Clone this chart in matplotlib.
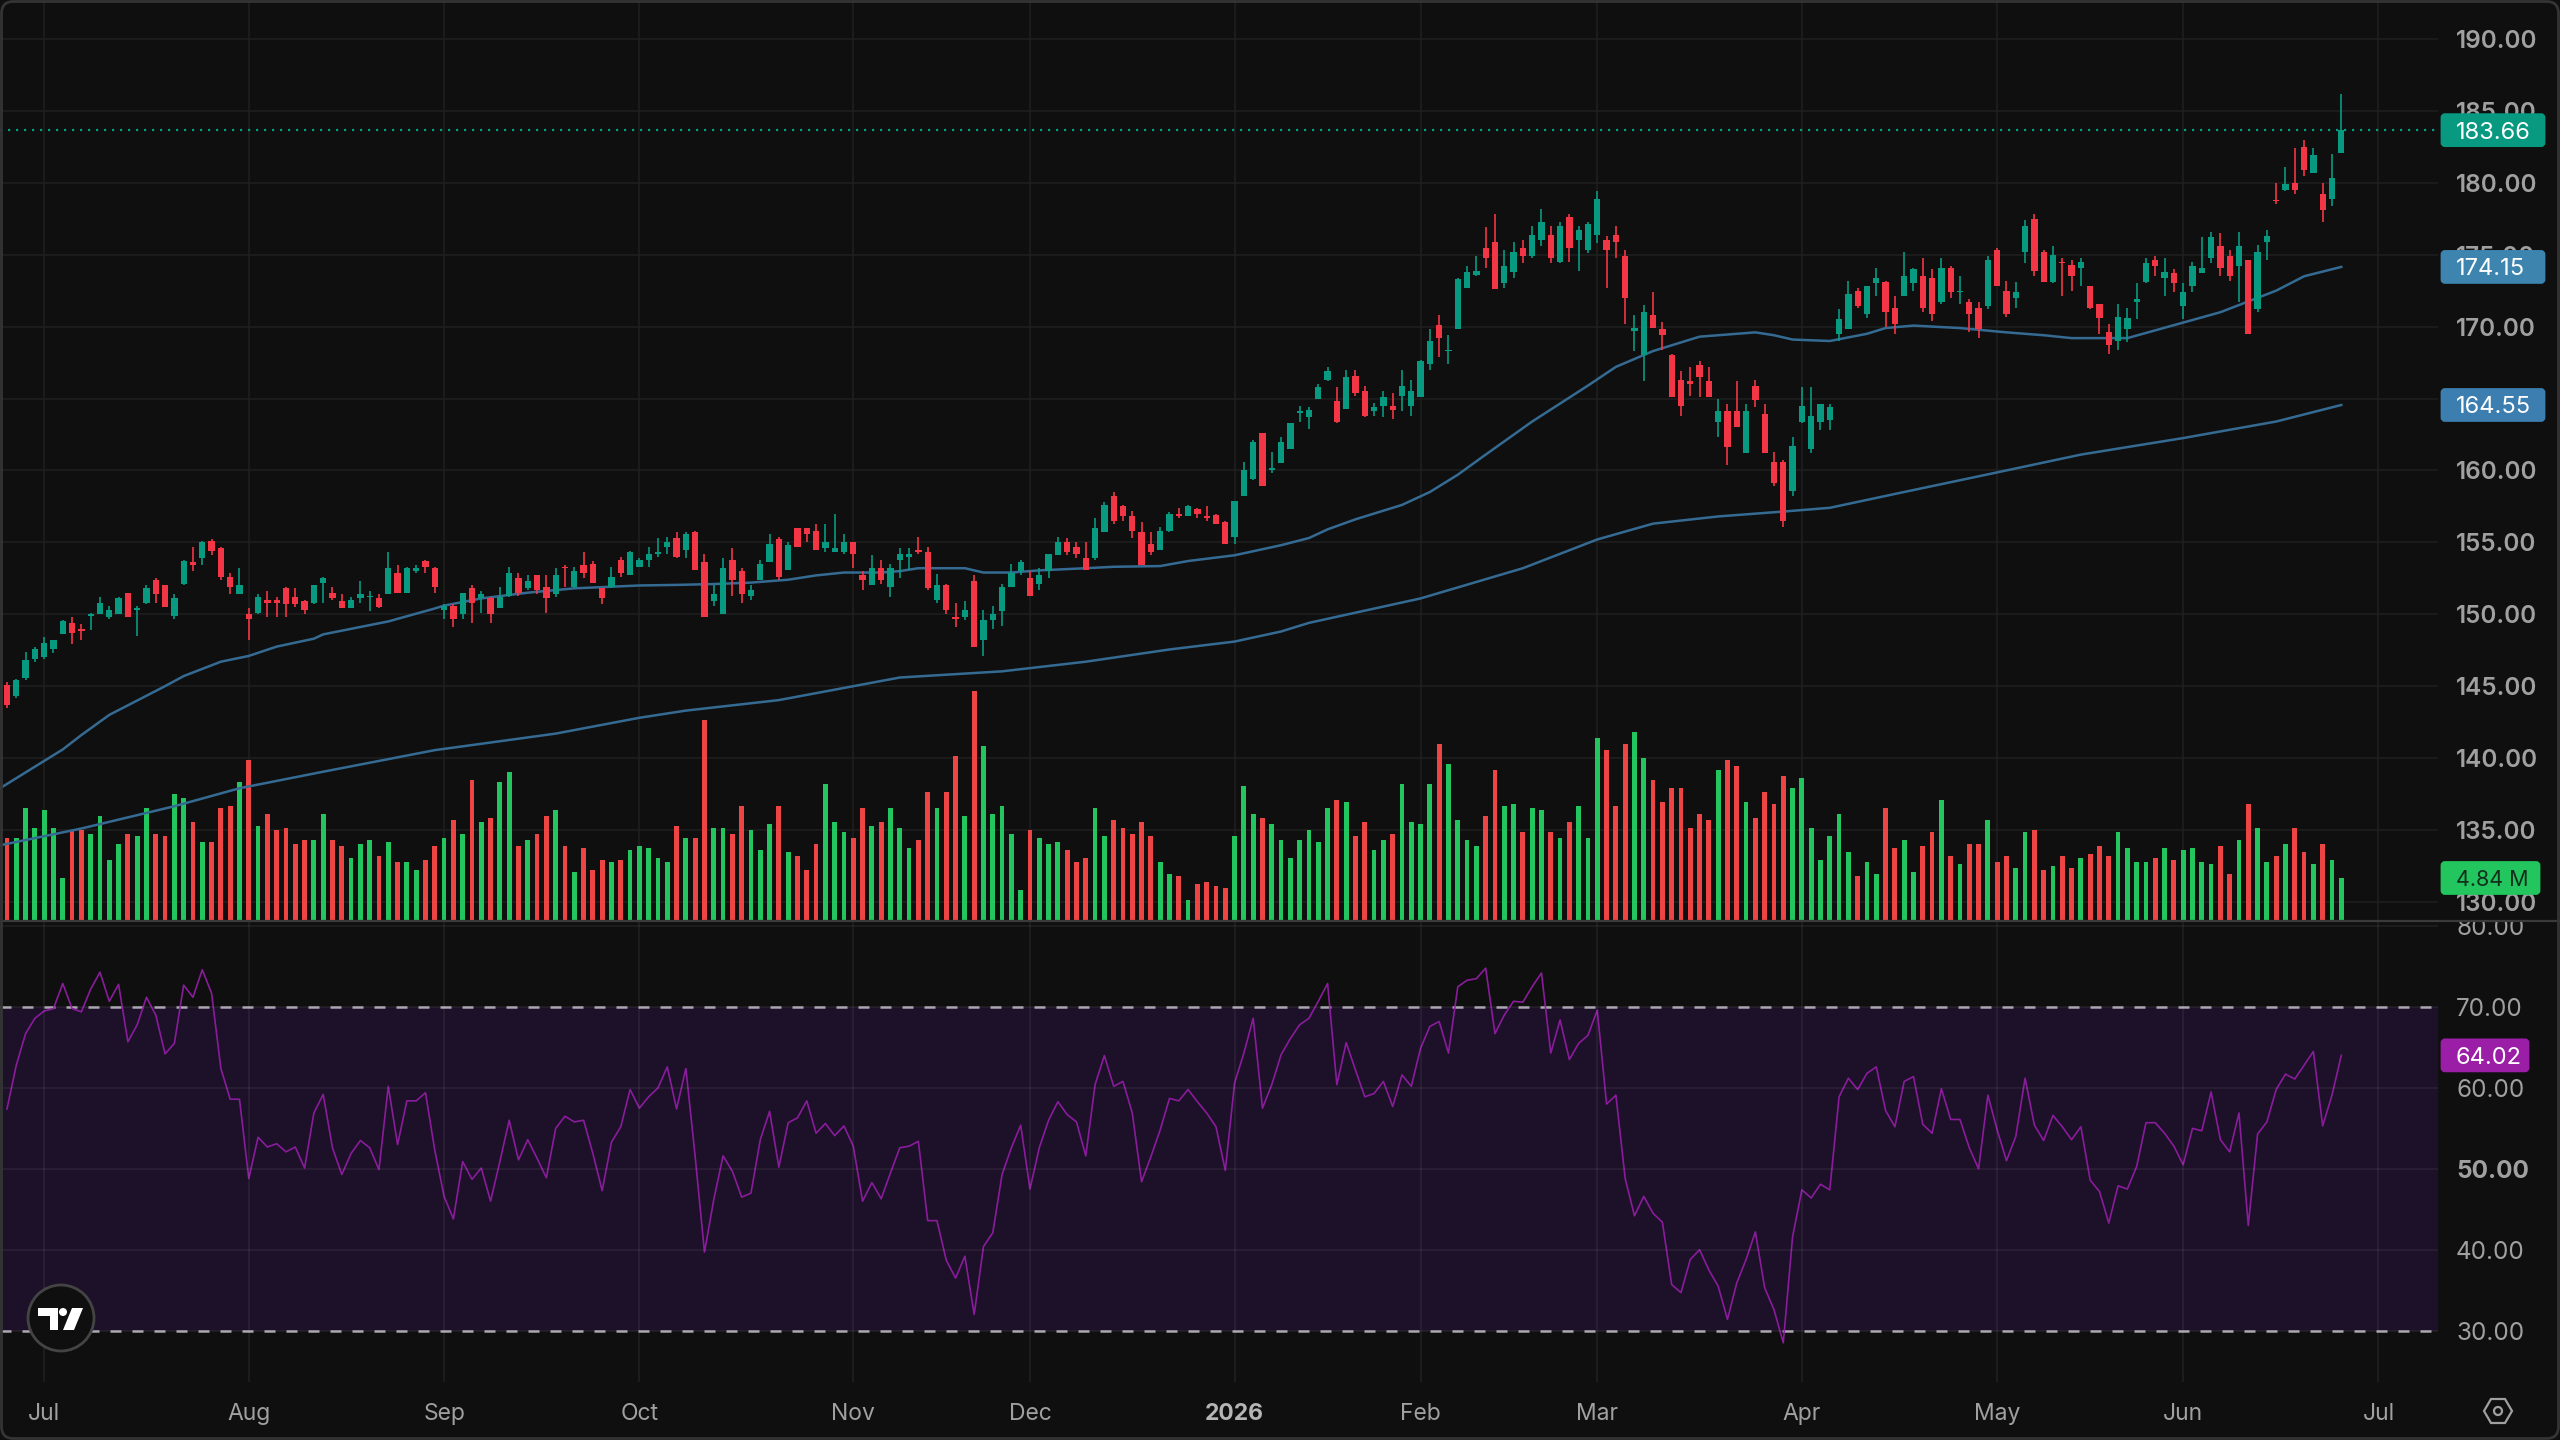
import matplotlib
matplotlib.use("Agg")
import matplotlib.pyplot as plt
import numpy as np
from matplotlib.patches import Circle, FancyBboxPatch, Polygon, Rectangle

plt.rcParams['font.family'] = ['Inter', 'DejaVu Sans']

# Daily OHLC in USD, one value per session
opens = [
    145.1,144.3,145.6,146.9,147.0,147.6,148.6,149.4,149.0,149.9,
    150.0,149.8,150.0,151.5,150.3,150.8,152.4,152.0,149.9,152.1,
    153.6,153.9,155.1,154.6,152.6,151.4,150.0,150.1,151.0,151.0,
    151.8,151.2,150.9,150.8,152.2,151.5,150.9,150.4,151.1,151.2,
    151.1,151.4,152.9,151.5,153.0,153.7,153.2,150.3,150.6,150.0,
    151.8,151.1,151.1,150.4,151.3,152.5,151.8,152.7,151.9,151.4,
    153.3,151.9,153.4,153.5,151.8,151.9,153.8,152.7,153.3,153.8,
    154.2,154.7,155.3,154.5,155.7,153.6,150.9,150.0,153.8,153.0,
    151.3,152.4,153.6,155.2,153.1,156.0,156.0,155.8,154.6,154.3,
    154.3,155.0,152.7,152.0,153.2,151.9,153.8,154.0,154.5,154.3,
    151.0,152.0,149.8,149.8,152.3,148.2,149.6,150.2,151.9,153.0,
    152.5,152.1,153.0,154.1,155.0,154.7,153.9,153.9,155.7,158.2,
    157.5,156.8,155.7,154.9,154.5,155.8,157.0,156.8,157.3,156.8,
    156.9,156.4,155.4,158.2,159.4,162.6,160.0,160.5,161.5,164.0,
    163.7,165.0,166.3,164.8,164.3,166.6,165.5,164.1,164.5,164.5,
    165.2,164.5,165.1,167.4,170.1,168.3,169.8,172.7,173.6,175.5,
    175.9,173.0,173.8,175.5,174.9,176.0,176.4,174.5,177.6,176.0,
    175.3,176.4,176.0,176.4,174.9,169.7,168.0,170.8,169.8,168.0,
    166.3,166.2,167.3,166.2,163.4,164.1,164.1,161.2,165.9,163.9,
    160.6,160.6,158.6,163.4,161.5,163.4,163.5,169.5,169.8,172.5,
    170.9,173.0,173.1,171.3,172.1,173.0,173.5,173.4,171.7,174.1,
    172.4,171.7,171.3,171.4,175.3,172.5,172.0,175.2,177.5,175.2,
    173.1,174.5,174.3,174.1,172.8,171.6,169.6,169.0,169.8,171.7,
    173.1,174.6,173.4,173.7,171.4,172.8,173.7,174.8,175.6,174.9,
    174.2,174.6,171.2,175.9,178.8,179.5,180.0,182.5,180.7,179.2,
    178.9,182.1,
]
highs = [
    145.3,145.5,147.4,147.7,148.4,148.2,149.6,149.8,149.3,150.1,
    151.2,150.6,151.2,151.5,150.6,152.0,152.5,152.0,151.4,153.8,
    154.7,155.1,155.2,154.7,152.9,153.2,150.4,151.4,151.6,151.2,
    151.9,151.8,151.0,152.0,152.6,151.9,151.4,151.2,152.3,151.6,
    151.4,154.3,153.4,153.3,153.4,153.8,153.3,150.7,150.7,151.5,
    152.0,151.6,151.2,151.9,153.3,152.9,152.7,152.7,152.7,153.2,
    153.4,153.3,154.3,153.7,151.8,153.3,154.0,154.4,153.9,154.7,
    155.3,155.4,155.7,155.7,155.8,154.2,152.0,153.9,154.6,153.2,
    152.0,153.8,155.6,155.4,155.0,156.0,156.0,156.3,156.3,157.0,
    155.6,155.0,153.0,154.1,153.8,153.5,154.6,154.6,155.4,154.7,
    152.8,152.1,150.8,150.9,152.7,150.3,150.6,152.1,153.5,153.8,
    153.0,153.2,154.2,155.4,155.3,155.0,155.0,156.7,157.8,158.5,
    157.6,157.2,156.4,155.7,156.1,157.1,157.4,157.6,157.4,157.5,
    157.0,156.5,157.9,160.6,162.1,162.6,161.3,162.3,163.3,164.5,
    164.4,166.0,167.2,165.8,167.0,167.0,165.9,164.7,165.5,165.4,
    167.0,166.3,167.7,169.8,170.8,169.4,173.4,174.2,174.9,176.9,
    177.8,175.3,175.9,176.0,177.0,178.2,177.0,177.3,177.8,177.0,
    177.3,179.4,176.3,177.0,175.3,170.8,171.5,172.4,170.3,168.1,
    166.9,167.2,167.6,167.2,165.0,164.6,166.2,164.6,166.3,164.6,
    161.3,160.7,162.3,165.8,165.8,164.6,164.6,171.2,173.2,172.7,
    172.8,174.1,173.2,172.1,175.2,174.1,174.8,174.0,174.8,174.2,
    173.5,171.9,171.7,174.9,175.5,173.2,173.1,177.4,177.8,175.3,
    175.6,174.8,174.6,174.8,172.8,171.6,170.2,171.6,171.3,173.0,
    174.8,174.9,174.8,174.0,173.0,174.5,176.2,176.6,176.5,175.3,
    176.6,174.6,175.7,176.7,180.0,181.1,182.4,183.0,182.4,180.0,
    182.0,186.2,
]
lows = [
    143.5,144.2,145.4,146.7,146.9,147.3,148.6,147.9,148.2,148.9,
    150.0,149.7,150.0,149.8,148.5,150.7,150.8,150.5,149.7,152.0,
    153.0,153.4,154.1,152.4,151.4,151.4,148.2,150.0,149.8,149.8,
    149.8,150.5,150.0,150.7,150.8,151.0,150.4,150.4,150.8,150.2,
    150.4,151.4,151.5,151.5,152.9,152.9,151.5,149.7,149.1,149.7,
    149.4,150.1,149.4,150.4,151.2,151.3,151.7,151.4,150.1,151.2,
    151.9,151.8,152.5,152.2,150.7,151.8,152.6,152.7,153.3,153.3,
    154.0,154.2,153.9,153.9,153.1,149.8,150.6,150.0,151.3,150.8,
    151.0,152.4,153.6,152.4,153.1,154.7,155.0,154.5,154.3,154.3,
    154.2,153.2,151.7,152.0,152.1,151.2,152.5,153.1,154.2,151.7,
    150.8,150.0,149.1,149.6,147.7,147.1,149.0,149.2,151.9,152.7,
    151.3,151.7,152.5,154.1,154.1,153.9,153.1,153.8,155.7,156.3,
    156.5,155.3,153.4,154.1,154.5,155.7,156.7,156.8,156.7,156.5,
    156.3,154.9,154.9,158.2,159.3,158.9,159.8,160.5,161.5,163.4,
    162.9,165.0,166.2,163.3,164.3,165.2,163.7,163.8,163.7,163.6,
    164.1,163.8,165.1,167.0,167.9,167.4,169.8,172.7,173.5,174.1,
    172.6,172.7,173.4,174.4,174.8,175.6,174.4,174.4,174.5,173.9,
    175.1,175.8,172.7,174.8,170.2,168.3,166.2,169.9,168.4,165.1,
    163.8,165.2,165.1,165.1,162.3,160.4,163.0,161.2,164.4,161.2,
    158.9,156.1,158.2,163.3,161.2,162.8,162.8,169.0,169.8,171.3,
    170.6,172.1,170.0,169.5,172.1,172.5,171.0,170.4,171.6,172.0,
    171.6,169.6,169.2,171.2,172.8,170.7,171.3,174.4,173.5,173.1,
    173.0,172.1,172.5,172.8,171.2,169.5,168.1,168.4,168.9,170.5,
    173.0,173.5,172.1,172.4,170.5,172.4,173.7,174.4,173.5,173.2,
    171.7,169.5,171.0,174.6,178.5,179.4,179.2,180.5,180.7,177.3,
    178.4,182.1,
]
closes = [
    143.7,145.4,146.8,147.6,148.0,148.2,149.5,148.7,148.8,150.0,
    150.8,150.3,151.1,149.8,150.4,151.8,151.4,150.5,151.1,153.7,
    153.4,155.0,154.4,152.6,151.9,152.0,149.7,151.2,150.8,150.8,
    150.7,150.7,150.3,152.0,152.5,151.1,150.4,151.0,151.4,151.3,
    150.5,153.2,151.5,153.2,153.2,153.3,151.9,150.6,149.7,151.5,
    150.8,151.4,150.0,151.2,152.9,151.5,152.3,151.7,151.1,152.7,
    153.2,153.0,152.9,152.2,151.1,152.6,152.9,154.3,153.8,154.2,
    154.3,155.0,154.0,155.6,153.1,149.8,151.4,153.2,152.4,151.4,
    151.7,153.5,154.9,152.6,154.8,154.7,155.6,154.5,155.0,154.6,
    155.0,154.2,152.4,153.2,152.4,153.2,154.2,154.2,154.3,151.8,
    152.0,150.3,149.7,150.3,147.7,149.6,150.0,151.9,152.9,153.6,
    151.3,152.7,154.2,155.0,154.3,154.2,153.1,156.0,157.6,156.5,
    156.8,155.8,153.4,154.3,155.8,157.0,156.8,157.5,157.0,156.7,
    156.3,154.9,157.9,160.0,162.0,158.9,160.2,162.0,163.3,164.1,
    164.2,165.8,166.9,163.4,166.5,165.4,163.8,164.4,165.1,164.2,
    165.9,165.5,167.6,169.0,169.2,168.4,173.3,173.8,173.9,174.8,
    172.6,174.2,175.2,174.9,176.4,177.3,174.8,177.0,175.5,176.7,
    177.1,178.9,175.3,175.9,172.0,169.9,171.0,169.9,169.4,165.1,
    164.5,166.0,166.5,165.1,164.1,161.6,163.0,164.1,164.9,161.2,
    159.1,156.5,161.7,164.5,163.8,164.6,164.4,170.5,172.3,171.4,
    172.8,173.4,171.0,170.2,173.5,174.0,171.3,170.9,174.1,172.4,
    172.5,170.9,169.8,174.6,172.8,170.9,172.4,177.0,173.9,173.1,
    175.0,174.4,173.5,174.5,171.3,170.6,168.7,170.7,170.6,171.9,
    174.4,174.2,173.8,173.0,172.4,174.2,174.1,176.2,174.1,173.5,
    175.6,169.5,175.2,176.3,178.7,179.9,179.5,180.9,181.9,178.1,
    180.3,183.66,
]
# Session volume in millions of shares
volumes = [
    9.45,9.45,12.90,10.60,12.67,10.60,4.84,10.37,10.37,9.91,
    11.98,6.91,8.76,9.91,9.68,12.90,9.91,9.68,14.52,14.05,
    11.29,8.99,8.99,12.90,13.13,15.90,18.43,10.83,12.21,10.37,
    10.60,8.76,9.22,9.22,12.21,9.22,8.52,7.14,8.76,9.22,
    7.37,8.99,6.68,6.68,5.76,6.91,8.52,9.45,11.52,9.91,
    16.13,11.29,11.75,15.90,17.05,8.52,9.22,9.91,11.98,12.67,
    8.52,5.53,8.29,5.76,6.91,6.68,6.91,8.06,8.52,8.29,
    7.14,6.68,10.83,9.45,9.45,23.04,10.60,10.60,9.91,13.13,
    10.37,8.06,11.06,13.13,7.83,7.37,5.76,8.76,15.67,11.29,
    10.14,9.45,12.90,10.83,11.29,12.90,10.60,8.29,9.22,14.75,
    12.90,14.75,18.89,11.98,26.38,20.04,12.21,13.13,9.91,3.46,
    10.37,9.45,8.76,8.99,8.06,6.68,7.14,12.90,9.68,11.52,
    10.60,9.91,11.29,9.68,6.68,5.30,5.07,2.30,4.15,4.38,
    3.92,3.69,9.68,15.44,12.21,11.75,11.06,9.22,7.14,9.22,
    10.37,8.99,12.90,13.82,13.59,9.68,11.29,8.06,9.22,9.91,
    15.67,11.29,11.06,15.67,20.28,17.97,11.52,9.22,8.52,11.98,
    17.28,13.13,13.36,10.14,12.90,12.67,10.14,9.45,11.29,13.13,
    9.45,20.97,19.58,13.13,20.28,21.66,18.66,16.13,13.59,15.21,
    15.21,10.60,12.21,11.52,17.28,18.43,17.74,13.59,11.75,14.75,
    13.36,16.59,15.21,16.36,10.60,6.91,9.68,12.21,7.83,5.07,
    6.68,5.30,12.90,8.29,9.22,5.53,8.52,10.14,13.82,7.37,
    6.45,8.76,8.76,11.52,6.68,7.37,5.99,10.14,10.37,5.76,
    6.22,7.37,5.99,7.14,7.60,8.52,7.37,10.14,8.29,6.68,
    6.68,7.14,8.29,6.91,8.06,8.29,6.68,6.45,8.52,5.30,
    9.22,13.36,10.60,6.68,7.37,8.76,10.60,7.83,6.45,8.76,
    6.91,4.84,
]
# Relative strength index per session
rsi = [
    57.4,62.8,66.7,68.6,69.5,69.8,72.9,69.8,69.4,72.2,
    74.3,70.7,72.8,65.7,67.8,71.2,69.0,64.2,65.5,72.7,
    71.2,74.6,71.7,62.4,58.6,58.6,48.8,53.9,52.7,53.1,
    52.1,52.7,50.1,56.9,59.2,52.6,49.3,51.9,53.5,52.6,
    49.9,60.2,53.0,58.4,58.4,59.4,52.3,46.6,43.8,50.9,
    48.7,50.1,46.0,50.9,56.0,51.1,53.6,51.3,48.9,55.0,
    56.5,55.8,56.0,51.9,47.3,53.3,55.2,59.8,57.5,58.9,
    60.0,62.6,57.4,62.4,51.5,39.7,46.2,51.6,49.7,46.5,
    47.0,53.6,57.1,50.2,55.7,56.3,58.4,54.4,55.6,54.1,
    55.3,52.8,46.0,48.3,46.3,49.5,52.6,52.8,53.4,43.6,
    43.6,38.7,36.5,39.2,32.0,40.4,42.1,49.3,52.6,55.4,
    47.5,52.6,56.0,58.3,56.7,55.8,51.6,60.4,64.0,60.2,
    60.8,56.9,48.4,51.5,54.8,58.7,58.4,59.8,58.3,56.9,
    55.2,49.8,60.6,64.3,68.6,57.5,60.4,64.1,66.1,67.8,
    68.6,70.7,72.9,60.4,65.6,62.2,58.9,59.3,60.8,57.7,
    61.6,60.2,64.9,67.6,68.2,64.3,72.5,73.3,73.5,74.8,
    66.7,69.0,70.7,70.6,72.5,74.2,64.3,68.4,63.5,65.5,
    66.5,69.6,58.0,59.1,48.8,44.2,46.6,44.5,43.4,35.7,
    34.7,38.8,40.0,37.5,35.5,31.4,35.9,38.8,42.2,35.3,
    32.6,28.5,41.6,47.4,46.4,48.1,47.4,58.9,61.2,59.8,
    61.8,62.6,57.2,55.2,60.8,61.4,55.5,54.4,59.9,56.1,
    56.1,52.6,50.0,59.1,54.8,51.0,54.0,61.2,55.4,53.5,
    56.6,55.2,53.6,55.2,48.6,47.2,43.3,47.9,47.5,50.3,
    55.7,55.7,54.4,52.8,50.5,55.0,54.7,59.5,53.6,52.1,
    56.9,43.0,54.3,55.8,59.8,61.7,61.1,62.8,64.5,55.3,
    59.1,64.02,
]
# Moving averages, sampled at the listed session numbers
ma50_sessions = [
    -1,1,6,8,11,17,19,23,26,29,33,34,41,46,47,51,56,61,68,72,76,80,84,87,90,
    94,96,98,103,105,108,111,116,119,124,127,132,137,140,142,145,150,153,156,
    159,164,170,173,177,182,188,190,192,196,200,202,205,210,215,219,222,
    228,233,238,244,247,251,
]
ma50_values = [
    137.8,138.6,140.6,141.6,143.0,145.0,145.7,146.7,147.1,147.75,148.3,148.6,
    149.5,150.4,150.6,151.1,151.5,151.8,152.0,152.04,152.1,152.2,152.4,152.7,
    152.9,152.9,153.0,153.2,153.2,152.9,152.9,153.05,153.2,153.3,153.35,153.7,
    154.1,154.8,155.3,155.9,156.6,157.6,158.5,159.7,161.1,163.4,165.9,
    167.2,168.3,169.3,169.6,169.4,169.1,169.0,169.5,169.9,170.07,169.9,169.6,
    169.4,169.2,169.2,170.1,171.0,172.5,173.5,174.15,
]
ma200_sessions = [
    -1,8,18,25,34,46,59,68,73,83,96,107,116,125,132,137,140,152,163,171,177,
    184,191,196,204,215,223,234,244,251,
]
ma200_values = [
    133.9,135.1,136.65,137.9,139.05,140.55,141.7,142.8,143.3,144.03,145.6,146.03,
    146.7,147.55,148.1,148.8,149.4,151.1,153.2,155.2,156.3,156.8,157.14,157.4,
    158.5,160.0,161.1,162.25,163.4,164.55,
]
# Session numbers where each month starts
month_sessions = [4, 26, 47, 68, 91, 110, 132, 152, 171, 193, 214, 234, 255]
month_labels = ["Jul", "Aug", "Sep", "Oct", "Nov", "Dec", "2026", "Feb", "Mar", "Apr", "May", "Jun", "Jul"]
price_ticks = [130, 135, 140, 145, 150, 155, 160, 165, 170, 175, 180, 185, 190]
rsi_ticks = [30, 40, 50, 60, 70, 80]

BG = "#0f0f0f"
GRID = "#1f1f1f"
UP, DOWN = "#089981", "#f23645"
VOL_UP, VOL_DOWN = "#22c55e", "#ef4444"
MA_COLOR = "#356b93"
TICK = "#a0a0a0"
RSI_COLOR = "#8a1c9c"
TICK_SIZE = 17.5

W, H, PLOT_W, SPLIT, RSI_BOTTOM = 2560, 1440, 2438, 921, 1382
fig = plt.figure(figsize=(25.6, 14.4), dpi=100, facecolor=BG)


def pane(top, bottom, zorder):
    ax = fig.add_axes([0, 1 - bottom / H, PLOT_W / W, (bottom - top) / H], zorder=zorder)
    ax.set_xlim(-0.75, 261.4)
    for s in ax.spines.values():
        s.set_visible(False)
    return ax


x = np.arange(len(closes))
o, h, l, c = map(np.asarray, (opens, highs, lows, closes))
up = c >= o

# Price pane: grid layer, volume layer, candle layer
ax_price = pane(0, SPLIT, 1)
ax_price.set_facecolor(BG)
ax_price.set_ylim(128.67, 192.71)
ax_price.set_yticks(price_ticks, [f"{t:.2f}" for t in price_ticks])
ax_price.yaxis.tick_right()
ax_price.tick_params(axis="y", length=0, pad=13, labelsize=TICK_SIZE, labelcolor=TICK)
for t in ax_price.get_yticklabels():
    t.set_fontweight("semibold")
ax_price.set_xticks(month_sessions)
ax_price.tick_params(axis="x", length=0, labelbottom=False)
ax_price.grid(True, color=GRID, lw=1.1)
ax_price.set_axisbelow(True)

ax_vol = pane(0, SPLIT, 2)
ax_vol.patch.set_alpha(0)
ax_vol.set_ylim(-0.115, 106)
ax_vol.set_xticks([])
ax_vol.set_yticks([])
ax_vol.bar(x, volumes, width=0.52, color=np.where(up, VOL_UP, VOL_DOWN), linewidth=0)

ax_top = pane(0, SPLIT, 3)
ax_top.patch.set_alpha(0)
ax_top.set_ylim(ax_price.get_ylim())
ax_top.set_xticks([])
ax_top.set_yticks([])
ax_top.plot(ma50_sessions, ma50_values, color=MA_COLOR, lw=1.8, zorder=2)
ax_top.plot(ma200_sessions, ma200_values, color=MA_COLOR, lw=1.8, zorder=2)
colors = np.where(up, UP, DOWN)
ax_top.vlines(x, l, h, colors=colors, lw=1.2, zorder=3)
ax_top.bar(x, np.abs(c - o), bottom=np.minimum(o, c), width=0.68, color=colors, linewidth=0, zorder=4)
ax_top.axhline(closes[-1], color=UP, lw=1.6, linestyle=(0, (1.0, 2.6)), zorder=1)

# Oscillator pane
ax_rsi = pane(SPLIT + 1, RSI_BOTTOM, 1)
ax_rsi.set_facecolor(BG)
ax_rsi.set_ylim(23.66, 80.5)
ax_rsi.set_yticks(rsi_ticks, [f"{t:.2f}" for t in rsi_ticks])
ax_rsi.yaxis.tick_right()
ax_rsi.tick_params(axis="y", length=0, pad=13, labelsize=TICK_SIZE, labelcolor=TICK)
ax_rsi.set_xticks(month_sessions, month_labels)
ax_rsi.tick_params(axis="x", length=0, pad=15, labelsize=16.5, labelcolor=TICK)
for t in ax_rsi.get_yticklabels():
    if t.get_text() == "50.00":
        t.set_fontweight("bold")
for t in ax_rsi.get_xticklabels():
    if t.get_text() == "2026":
        t.set_fontweight("bold")
        t.set_color("#b5b5b5")
ax_rsi.axhspan(30, 70, color="#1d1029", lw=0, zorder=0)
ax_rsi.grid(True, color="#ffffff", alpha=0.07, lw=1.1)
ax_rsi.set_axisbelow(False)
for line in ax_rsi.get_xgridlines() + ax_rsi.get_ygridlines():
    line.set_zorder(0.5)
ax_rsi.axhline(70, color="#a8a3ad", lw=1.8, linestyle=(0, (4.4, 4.4)), zorder=1)
ax_rsi.axhline(30, color="#a8a3ad", lw=1.8, linestyle=(0, (4.4, 4.4)), zorder=1)
ax_rsi.plot(x, rsi, color=RSI_COLOR, lw=1.2, zorder=2)

# Overlay in pixel units for tags, separator and icons
ov = fig.add_axes([0, 0, 1, 1], zorder=6)
ov.set_xlim(0, W)
ov.set_ylim(H, 0)
ov.axis("off")
ov.patch.set_alpha(0)
ov.add_patch(Rectangle((PLOT_W, 912), W - PLOT_W, SPLIT - 912, facecolor=BG, lw=0, zorder=1))
ov.plot([0, W], [SPLIT, SPLIT], color="#3a3a3a", lw=1.6, zorder=2, solid_capstyle="butt")


def tag(axis, value, text, face, width, ink="#ffffff", size=17):
    yc = H - axis.transData.transform((0, value))[1]
    ov.add_patch(FancyBboxPatch((PLOT_W + 4, yc - 15.5), width - 8, 31,
                                boxstyle="round,pad=0,rounding_size=3", mutation_aspect=1,
                                facecolor=face, edgecolor=face, lw=2, zorder=3))
    ov.text(2456, yc, text, color=ink, fontsize=size, va="center_baseline", ha="left", zorder=4)


tag(ax_price, closes[-1], f"{closes[-1]:.2f}", "#089981", 110)
tag(ax_price, ma50_values[-1], f"{ma50_values[-1]:.2f}", "#3d84ae", 110)
tag(ax_price, ma200_values[-1], f"{ma200_values[-1]:.2f}", "#3d7eb0", 110)
tag(ax_vol, volumes[-1], f"{volumes[-1]:.2f} M", "#22c55e", 105, ink="#12301c", size=15.5)
tag(ax_rsi, rsi[-1], f"{rsi[-1]:.2f}", "#9a1ea6", 94)

# Round badge in the corner of the oscillator pane
ov.add_patch(Circle((61, 1318), 33, facecolor=BG, edgecolor="#444444", lw=2, zorder=3))
ov.add_patch(Polygon([(38, 1308), (58, 1308), (58, 1330), (50, 1330), (50, 1316), (38, 1316)],
                     facecolor="#ffffff", lw=0, zorder=4))
ov.add_patch(Circle((63, 1312), 4, facecolor="#ffffff", lw=0, zorder=4))
ov.add_patch(Polygon([(72, 1308), (83, 1308), (74, 1330), (63, 1330)],
                     facecolor="#ffffff", lw=0, zorder=4))

# Settings icon beside the time axis
ov.add_patch(Polygon([(2484, 1411), (2491, 1399), (2505, 1399), (2512, 1411), (2505, 1423), (2491, 1423)],
                     fill=False, edgecolor=TICK, lw=1.6, zorder=3))
ov.add_patch(Circle((2498, 1411), 4, fill=False, edgecolor=TICK, lw=1.6, zorder=3))

# Rounded frame of the chart
ov.add_patch(FancyBboxPatch((1.5, 1.5), W - 3, H - 3, boxstyle="round,pad=0,rounding_size=12",
                            fill=False, edgecolor="#343434", lw=2, zorder=5))

assert len(opens) == len(highs) == len(lows) == len(closes) == len(volumes) == len(rsi) == 252
fig.savefig("out.png", dpi=100, facecolor=BG)
